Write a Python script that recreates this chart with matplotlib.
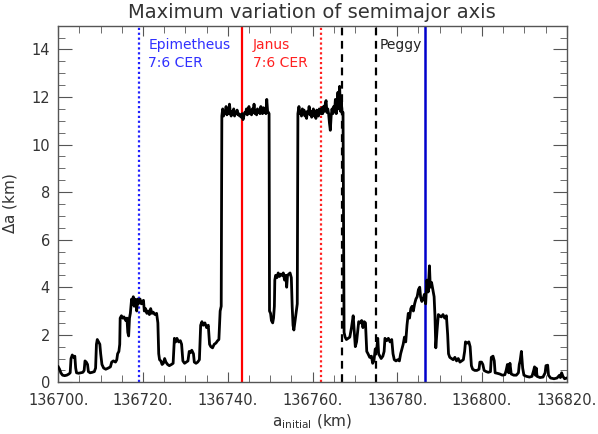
import matplotlib
matplotlib.use('Agg')
import matplotlib.pyplot as plt
from matplotlib.ticker import MultipleLocator, FuncFormatter

# Initial semimajor axis (km, offset from 136700) and maximum variation (km)
a_offset = [
    0.0, 0.3, 0.6, 1.0, 1.5, 2.0, 2.5, 2.8, 3.0, 3.3, 3.6, 3.9, 4.1, 4.3, 4.8, 5.3, 5.8, 6.1, 6.3, 6.6,
    6.9, 7.1, 7.5, 8.0, 8.5, 8.8, 9.0, 9.2, 9.5, 9.8, 10.0, 10.3, 10.7, 11.2, 11.8, 12.3, 12.6, 13.0, 13.5, 13.8,
    14.0, 14.3, 14.5, 14.6, 14.9, 15.2, 15.5, 15.9, 16.2, 16.4, 16.6, 16.8, 17.0, 17.3, 17.5, 17.7, 17.9, 18.1, 18.3, 18.5,
    18.7, 18.9, 19.1, 19.3, 19.6, 19.9, 20.1, 20.3, 20.6, 20.9, 21.2, 21.5, 21.8, 22.1, 22.4, 22.8, 23.2, 23.5, 23.7, 23.9,
    24.2, 24.5, 24.8, 25.1, 25.4, 25.8, 26.2, 26.7, 27.1, 27.4, 27.7, 28.0, 28.4, 28.8, 29.1, 29.4, 29.8, 30.2, 30.6, 30.9,
    31.2, 31.5, 31.9, 32.1, 32.5, 32.9, 33.3, 33.6, 33.9, 34.2, 34.6, 35.0, 35.4, 35.7, 36.0, 36.4, 36.8, 37.2, 37.6, 37.9,
    38.2, 38.45, 38.6, 38.8, 39.0, 39.2, 39.4, 39.6, 39.8, 40.0, 40.2, 40.4, 40.6, 40.8, 41.0, 41.2, 41.4, 41.6, 41.8, 42.0,
    42.2, 42.4, 42.6, 42.8, 43.0, 43.2, 43.4, 43.6, 43.8, 44.0, 44.2, 44.4, 44.6, 44.8, 45.0, 45.2, 45.4, 45.6, 45.8, 46.0,
    46.2, 46.4, 46.6, 46.8, 47.0, 47.2, 47.4, 47.6, 47.8, 48.0, 48.2, 48.4, 48.6, 48.8, 49.0, 49.2, 49.4, 49.6, 49.75, 49.85,
    50.1, 50.3, 50.6, 50.8, 51.0, 51.1, 51.3, 51.6, 51.9, 52.2, 52.5, 52.8, 53.1, 53.4, 53.7, 53.9, 54.1, 54.4, 54.7, 55.0,
    55.2, 55.4, 55.6, 55.9, 56.2, 56.4, 56.55, 56.8, 57.0, 57.2, 57.4, 57.6, 57.8, 58.0, 58.2, 58.4, 58.6, 58.8, 59.0, 59.2,
    59.4, 59.6, 59.8, 60.0, 60.2, 60.4, 60.6, 60.8, 61.0, 61.2, 61.4, 61.6, 61.8, 62.0, 62.2, 62.4, 62.6, 62.8, 63.0, 63.2,
    63.4, 63.6, 63.8, 64.0, 64.2, 64.4, 64.6, 64.8, 65.0, 65.2, 65.4, 65.6, 65.8, 66.0, 66.2, 66.4, 66.6, 66.8, 67.0, 67.2,
    67.45, 67.7, 68.0, 68.4, 68.8, 69.2, 69.6, 69.9, 70.1, 70.4, 70.7, 70.9, 71.2, 71.6, 71.9, 72.2, 72.5, 72.8, 73.1, 73.5,
    73.9, 74.2, 74.5, 74.8, 75.1, 75.4, 75.6, 75.9, 76.2, 76.6, 76.9, 77.1, 77.5, 77.9, 78.3, 78.7, 79.0, 79.3, 79.7, 80.1,
    80.5, 80.8, 81.1, 81.4, 81.7, 82.0, 82.3, 82.6, 82.9, 83.2, 83.5, 83.8, 84.1, 84.4, 84.7, 85.0, 85.3, 85.5, 85.8, 86.1,
    86.4, 86.7, 87.0, 87.3, 87.6, 87.8, 88.1, 88.4, 88.7, 88.9, 89.1, 89.4, 89.7, 90.0, 90.4, 90.8, 91.2, 91.6, 91.9, 92.1,
    92.4, 92.8, 93.2, 93.6, 94.0, 94.4, 94.8, 95.2, 95.6, 95.9, 96.1, 96.5, 96.9, 97.2, 97.5, 97.8, 98.3, 98.8, 99.3, 99.5,
    99.9, 100.2, 100.5, 101.0, 101.5, 102.0, 102.2, 102.6, 102.9, 103.1, 103.6, 104.2, 104.8, 105.4, 105.7, 106.0, 106.3, 106.6, 106.9, 107.5,
    108.1, 108.6, 108.8, 109.0, 109.3, 109.6, 109.9, 110.5, 111.2, 111.8, 112.2, 112.4, 112.6, 112.8, 113.0, 113.7, 114.4, 114.9, 115.1, 115.5,
    115.7, 116.2, 117.0, 117.7, 118.3, 118.5, 118.8, 119.1, 119.5, 120.0,
]
delta_a = [
    0.65, 0.55, 0.4, 0.3, 0.28, 0.3, 0.35, 0.4, 1.0, 1.15, 1.05, 1.1, 0.6, 0.4, 0.38, 0.4, 0.42, 0.5, 0.9, 0.85,
    0.75, 0.45, 0.4, 0.42, 0.45, 0.6, 1.6, 1.8, 1.7, 1.6, 1.2, 0.75, 0.6, 0.55, 0.6, 0.65, 0.85, 0.9, 0.85, 0.95,
    1.2, 1.3, 1.6, 2.7, 2.8, 2.7, 2.75, 2.6, 2.7, 2.1, 1.95, 2.7, 2.9, 3.5, 3.3, 3.6, 3.2, 3.5, 3.4, 3.0,
    3.5, 3.3, 3.4, 3.5, 3.3, 3.4, 3.45, 3.0, 3.1, 2.9, 3.0, 2.85, 3.1, 2.9, 2.95, 2.85, 2.9, 2.5, 1.2, 0.95,
    0.9, 0.75, 0.8, 1.0, 0.85, 0.75, 0.7, 0.75, 0.8, 1.85, 1.7, 1.85, 1.7, 1.75, 1.6, 0.9, 0.8, 0.85, 0.9, 1.3,
    1.25, 1.35, 1.2, 0.85, 0.8, 0.85, 0.95, 2.4, 2.55, 2.4, 2.5, 2.3, 2.4, 1.6, 1.5, 1.45, 1.6, 1.65, 1.75, 1.8,
    3.0, 3.2, 11.2, 11.5, 11.2, 11.4, 11.3, 11.6, 11.25, 11.45, 11.3, 11.7, 11.35, 11.2, 11.4, 11.3, 11.5, 11.2, 11.35, 11.3,
    11.45, 11.25, 11.3, 11.2, 11.25, 11.15, 11.3, 11.05, 11.2, 11.35, 11.3, 11.5, 11.25, 11.4, 11.6, 11.3, 11.45, 11.25, 11.5, 11.35,
    11.7, 11.3, 11.4, 11.25, 11.5, 11.35, 11.45, 11.3, 11.6, 11.4, 11.3, 11.55, 11.35, 11.5, 11.3, 11.9, 11.4, 11.35, 11.3, 3.0,
    2.9, 2.6, 2.5, 2.7, 3.2, 4.3, 4.5, 4.4, 4.6, 4.45, 4.55, 4.5, 4.6, 4.3, 4.5, 4.0, 4.5, 4.55, 4.6, 4.4,
    3.2, 2.4, 2.2, 2.6, 3.0, 3.3, 11.3, 11.6, 11.3, 11.4, 11.2, 11.5, 11.3, 11.45, 11.2, 11.35, 11.1, 11.4, 11.3, 11.6,
    11.25, 11.4, 11.15, 11.35, 11.5, 11.2, 11.3, 11.1, 11.45, 11.3, 11.2, 11.5, 11.4, 11.3, 11.55, 11.3, 11.6, 11.4, 11.7, 11.85,
    11.35, 11.5, 11.3, 10.9, 10.6, 11.2, 11.5, 11.3, 11.6, 11.4, 11.9, 11.3, 11.7, 12.2, 11.5, 12.45, 11.4, 11.8, 11.3, 11.35,
    2.1, 1.9, 1.8, 1.85, 1.9, 2.3, 2.8, 2.0, 1.5, 1.7, 2.2, 2.55, 2.5, 2.6, 2.3, 2.55, 2.5, 1.3, 1.2, 1.05,
    1.1, 0.8, 0.9, 1.4, 1.3, 1.85, 1.2, 1.1, 1.0, 1.1, 1.3, 1.85, 1.75, 1.85, 1.7, 1.8, 1.2, 0.95, 0.9, 0.95,
    0.9, 1.2, 1.4, 1.6, 1.9, 1.7, 2.4, 2.9, 2.7, 3.1, 3.2, 3.0, 3.3, 3.5, 3.6, 3.9, 4.0, 3.6, 3.4, 3.5,
    3.7, 3.3, 4.3, 3.8, 4.9, 4.0, 4.2, 3.9, 3.6, 2.8, 1.45, 2.2, 2.85, 2.8, 2.75, 2.85, 2.7, 2.8, 2.0, 1.2,
    1.05, 1.0, 0.95, 1.05, 0.9, 1.0, 0.85, 0.9, 0.95, 1.3, 1.7, 1.65, 1.7, 1.5, 0.7, 0.55, 0.5, 0.5, 0.55, 0.85,
    0.85, 0.75, 0.5, 0.45, 0.42, 0.45, 1.05, 1.1, 0.9, 0.4, 0.38, 0.35, 0.3, 0.32, 0.5, 0.75, 0.4, 0.8, 0.35, 0.3,
    0.3, 0.4, 0.75, 0.9, 1.3, 0.6, 0.3, 0.25, 0.22, 0.25, 0.5, 0.65, 0.3, 0.6, 0.25, 0.2, 0.22, 0.4, 0.7, 0.72,
    0.3, 0.18, 0.15, 0.18, 0.3, 0.2, 0.4, 0.25, 0.15, 0.18,
]
a_base = 136700.0
a_initial = [a_base + v for v in a_offset]

# Resonance / feature markers
epimetheus_cer = 136719.05
janus_cer = 136743.4
janus_cer_2 = 136761.9
peggy_edges = [136767.0, 136775.0]
blue_marker = 136786.5

fig = plt.figure(figsize=(5.98, 4.34), dpi=100)
ax = fig.add_axes([0.0975, 0.1191, 0.8502, 0.8217])

ax.plot(a_initial, delta_a, color='black', lw=2.0, zorder=3)

ax.axvline(epimetheus_cer, color='#2020ff', lw=1.6, ls=(0, (1, 1.2)), zorder=2)
ax.axvline(janus_cer, color='#ff0000', lw=1.6, zorder=2)
ax.axvline(janus_cer_2, color='#ff2020', lw=1.6, ls=(0, (1, 1.2)), zorder=2)
for x in peggy_edges:
    ax.axvline(x, color='black', lw=1.6, ls=(0, (3.5, 2.5)), zorder=2)
ax.axvline(blue_marker, color='#0000cc', lw=1.8, zorder=2)

ax.text(136721.2, 14.2, 'Epimetheus', color='#3030ff', fontsize=10, va='center', ha='left')
ax.text(136721.2, 13.43, '7:6 CER', color='#3030ff', fontsize=10, va='center', ha='left')
ax.text(136745.9, 14.2, 'Janus', color='#ff2020', fontsize=10, va='center', ha='left')
ax.text(136745.9, 13.43, '7:6 CER', color='#ff2020', fontsize=10, va='center', ha='left')
ax.text(136775.9, 14.2, 'Peggy', color='#222222', fontsize=10, va='center', ha='left')

ax.set_xlim(136700, 136820)
ax.set_ylim(0, 15)
ax.xaxis.set_major_locator(MultipleLocator(20))
ax.xaxis.set_minor_locator(MultipleLocator(5))
ax.yaxis.set_major_locator(MultipleLocator(2))
ax.yaxis.set_minor_locator(MultipleLocator(0.5))
ax.xaxis.set_major_formatter(FuncFormatter(lambda v, p: f'{v:.0f}.'))
ax.yaxis.set_major_formatter(FuncFormatter(lambda v, p: f'{v:.0f}'))

ax.tick_params(which='both', direction='in', top=True, right=True, color='#555555',
               labelcolor='#333333', labelsize=10.5)
ax.tick_params(axis='x', which='major', length=7, pad=8)
ax.tick_params(axis='x', which='minor', length=5)
ax.tick_params(axis='y', which='major', length=10, pad=6)
ax.tick_params(axis='y', which='minor', length=5)
for s in ax.spines.values():
    s.set_color('#555555')
    s.set_linewidth(1.0)

ax.set_xlabel(r'a$_{\mathrm{initial}}$ (km)', fontsize=11, color='#333333', labelpad=3)
ax.set_ylabel(r'$\Delta$a (km)', fontsize=11, color='#333333', labelpad=9)
fig.text(0.522, 0.972, 'Maximum variation of semimajor axis', ha='center', va='center',
         fontsize=14, color='#333333')

fig.savefig('out.png', dpi=100)
plt.close(fig)
